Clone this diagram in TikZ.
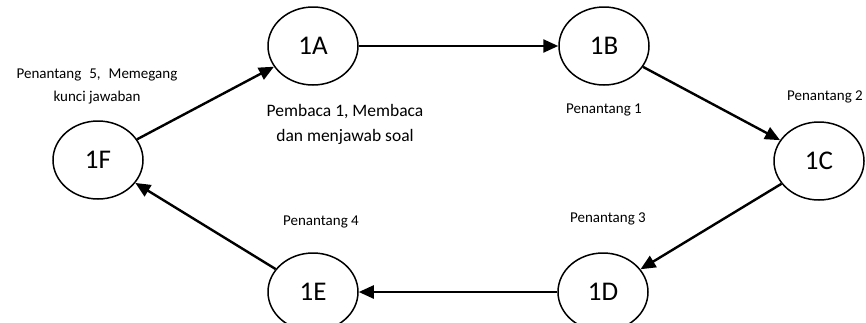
\documentclass[tikz,border=0pt]{standalone}
\usepackage{fontspec}
\setmainfont{Carlito}
\usetikzlibrary{shapes.geometric,arrows.meta}
\tikzset{
  stnode/.style={ellipse,draw,line width=1.5pt,minimum width=90pt,minimum height=78pt,inner sep=0pt,font=\fontsize{27}{30}\selectfont},
  conn/.style={line width=2.4pt,-{Triangle[length=15pt,width=13pt]}},
  small/.style={font=\fontsize{15}{17}\selectfont,align=center,inner sep=0pt},
  big/.style={font=\fontsize{17.5}{25}\selectfont,align=center,inner sep=0pt}
}
\begin{document}
\begin{tikzpicture}[x=1pt,y=-1pt]
\useasboundingbox (0,0) rectangle (866,322);
\node[stnode] (A) at (313,46) {1A};
\node[stnode] (B) at (604,46) {1B};
\node[stnode] (C) at (819,161) {1C};
\node[stnode] (D) at (603,292) {1D};
\node[stnode] (E) at (313,292) {1E};
\node[stnode] (F) at (98,160) {1F};
\draw[conn] (A) -- (B);
\draw[conn] (B) -- (C);
\draw[conn] (C) -- (D);
\draw[conn] (D) -- (E);
\draw[conn] (E) -- (F);
\draw[conn] (F) -- (A);
\node[small,font=\fontsize{15}{23}\selectfont] (lf) at (97,86) {Penantang\hspace{8pt}5,\hspace{8pt}Memegang\\kunci jawaban};
\node[big] (la) at (345,124) {Pembaca 1, Membaca\\dan menjawab soal};
\node[small] (lb) at (604,110) {Penantang 1};
\node[small] (lc) at (825,97) {Penantang 2};
\node[small] (ld) at (608,219) {Penantang 3};
\node[small] (le) at (321,222) {Penantang 4};
\end{tikzpicture}
\end{document}
